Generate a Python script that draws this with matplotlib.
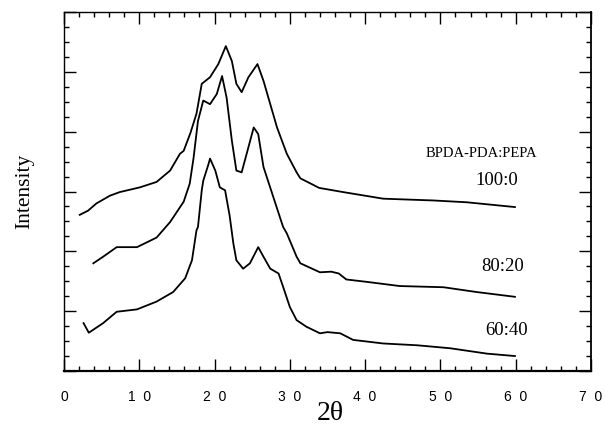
import matplotlib
matplotlib.use('Agg')
from matplotlib import pyplot as plt
from matplotlib.ticker import MultipleLocator
import numpy as np

# 100:0 curve
top_x = [2.1, 3.2, 4.3, 6.1, 7.4, 10.1, 12.3, 14.1, 15.4, 15.9, 16.8, 17.6, 18.3, 19.4, 20.5,
         21.5, 22.3, 22.9, 23.6, 24.5, 25.7, 26.5, 27.4, 28.3, 29.6, 30.9, 31.4, 33.9, 37.1,
         42.4, 49.1, 53.5, 59.9]
top_y = [2.61, 2.68, 2.80, 2.93, 2.99, 3.07, 3.16, 3.35, 3.63, 3.68, 3.98, 4.30, 4.80, 4.91, 5.13,
         5.43, 5.18, 4.80, 4.66, 4.91, 5.13, 4.85, 4.46, 4.07, 3.63, 3.32, 3.22, 3.06, 2.99,
         2.88, 2.85, 2.82, 2.74]

# 80:20 curve
mid_x = [3.9, 5.2, 7.0, 9.7, 12.3, 14.1, 15.9, 16.7, 17.2, 17.8, 18.5, 19.4, 20.3, 21.0,
         21.6, 22.3, 22.9, 23.6, 24.5, 25.2, 25.8, 26.5, 27.8, 29.1, 29.6, 30.9, 31.4, 34.0,
         35.5, 36.5, 37.5, 40.2, 44.6, 50.4, 54.8, 59.9]
mid_y = [1.80, 1.91, 2.07, 2.07, 2.23, 2.49, 2.83, 3.13, 3.55, 4.18, 4.52, 4.46, 4.63, 4.93,
         4.57, 3.85, 3.35, 3.32, 3.74, 4.07, 3.96, 3.41, 2.91, 2.41, 2.30, 1.91, 1.80, 1.65,
         1.66, 1.63, 1.53, 1.49, 1.42, 1.40, 1.32, 1.24]

# 60:40 curve
bot_x = [2.6, 3.3, 5.2, 7.0, 9.7, 12.3, 14.5, 16.1, 17.0, 17.6, 17.8, 18.3, 18.5, 19.2, 19.4,
         20.1, 20.7, 21.4, 22.0, 22.5, 22.9, 23.8, 24.7, 25.8, 26.5, 27.4, 28.5, 29.1, 30.0,
         30.9, 32.2, 34.0, 35.0, 36.7, 38.4, 42.4, 46.9, 51.3, 56.2, 59.9]
bot_y = [0.80, 0.64, 0.80, 0.99, 1.03, 1.16, 1.32, 1.55, 1.85, 2.35, 2.41, 3.02, 3.18, 3.46, 3.55,
         3.35, 3.07, 3.02, 2.60, 2.13, 1.85, 1.71, 1.80, 2.07, 1.91, 1.71, 1.63, 1.41, 1.07,
         0.85, 0.74, 0.63, 0.65, 0.63, 0.52, 0.46, 0.43, 0.38, 0.29, 0.25]

x_ticks = [0, 10, 20, 30, 40, 50, 60, 70]
# old-style spaced digits on the x axis
x_labels = ['  '.join(str(v)) for v in x_ticks]

ratios = ['100:0', '80:20', '60:40']
ratio_pos = [(57.5, 3.18), (58.2, 1.75), (58.8, 0.68)]

serif = 'Liberation Serif'

fig = plt.figure(figsize=(6.07, 4.29), dpi=100)
ax = fig.add_axes([0.1054, 0.1352, 0.8682, 0.8368])

for xs, ys in [(top_x, top_y), (mid_x, mid_y), (bot_x, bot_y)]:
    ax.plot(xs, ys, color='black', lw=1.3)

ax.set_xlim(0, 70)
ax.set_ylim(0, 6)
ax.set_xticks(x_ticks)
ax.set_xticklabels(x_labels, family='Liberation Sans', fontsize=10)
ax.xaxis.set_minor_locator(MultipleLocator(2))
ax.yaxis.set_major_locator(MultipleLocator(1))
ax.yaxis.set_minor_locator(MultipleLocator(0.25))
ax.set_yticklabels([])
ax.tick_params(which='both', direction='in', top=True, right=True, width=1)
ax.tick_params(which='major', length=8.5, pad=14)
ax.tick_params(which='minor', length=3.8)
for s in ax.spines.values():
    s.set_linewidth(1.0)
ax.spines['bottom'].set_linewidth(1.6)
ax.spines['right'].set_linewidth(1.3)

ax.set_ylabel('Intensity', family=serif, fontsize=15.5, va='center')
ax.yaxis.set_label_coords(-0.075, 0.5)
ax.set_xlabel('2θ', family=serif, fontsize=20, va='center')
ax.xaxis.set_label_coords(0.505, -0.117)

ax.text(55.4, 3.63, 'BPDA-PDA:PEPA', family=serif, fontsize=10.5, ha='center', va='center')
for lab, (tx, ty) in zip(ratios, ratio_pos):
    ax.text(tx, ty, lab, family=serif, fontsize=13.5, ha='center', va='center')

fig.savefig('out.png', dpi=100)
